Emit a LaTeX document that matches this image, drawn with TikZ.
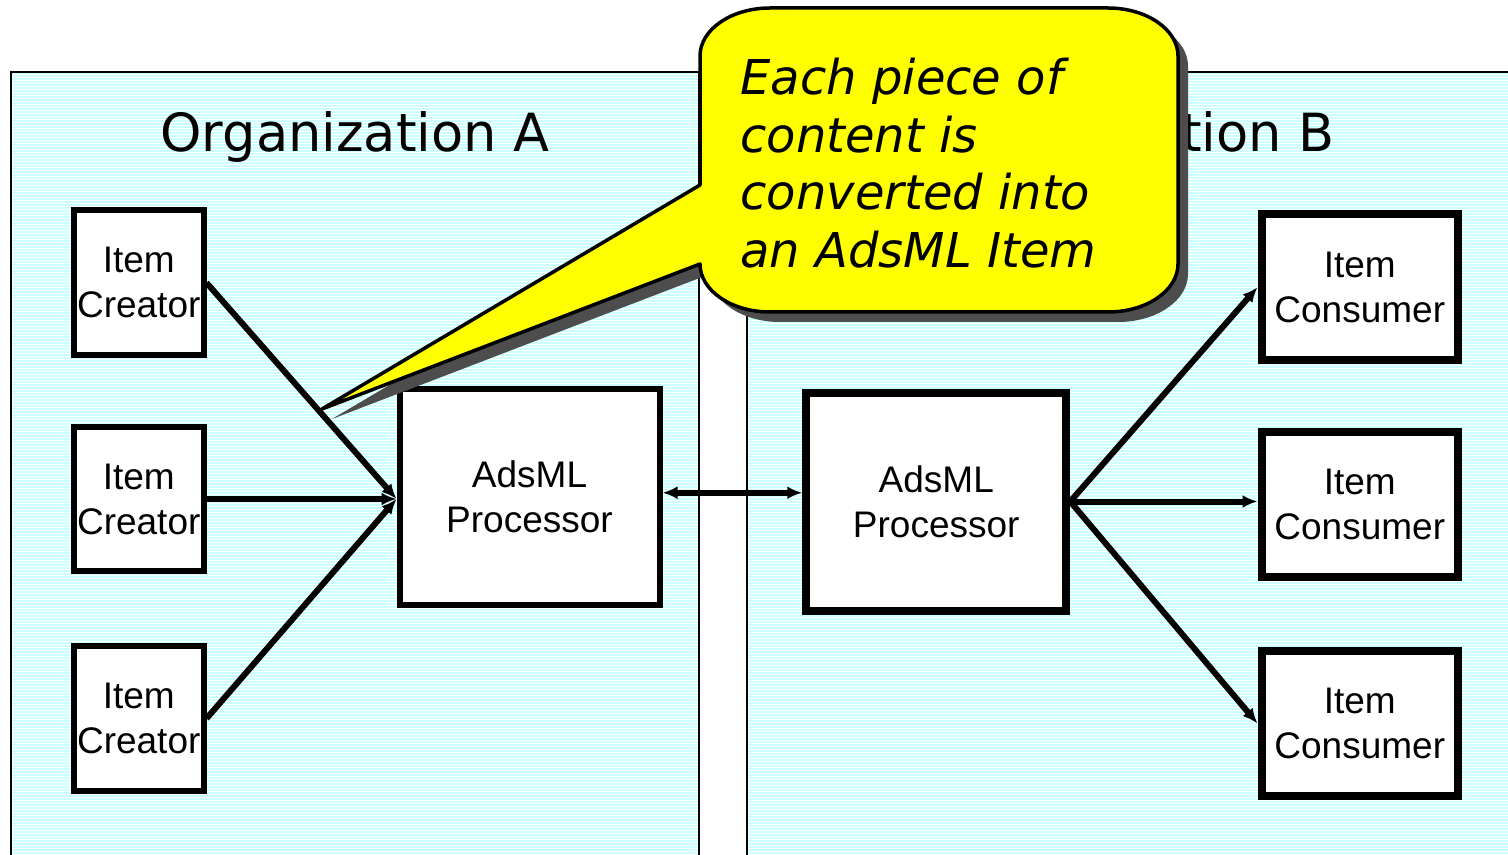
\documentclass[tikz,border=0pt]{standalone}
\usepackage{fontspec}
\setmainfont{Liberation Sans}
\newfontfamily\orgfont{DejaVu Sans}
\usetikzlibrary{arrows.meta}

\definecolor{panelcyan}{RGB}{204,255,255}
\definecolor{noteyellow}{RGB}{255,255,0}
\definecolor{shadowgray}{RGB}{77,77,77}

% outline of the speech bubble (box with pointer), in pixel units
\newcommand{\notepath}{(700,185) -- (322,409) -- (700,264)
  .. controls (700,290.5) and (731.4,312) .. (770,312) -- (1108,312)
  .. controls (1146.6,312) and (1178,290.5) .. (1178,264) -- (1178,56)
  .. controls (1178,29.5) and (1146.6,8) .. (1108,8) -- (770,8)
  .. controls (731.4,8) and (700,29.5) .. (700,56) -- cycle}

\begin{document}
\begin{tikzpicture}[x=0.5pt,y=-0.5pt,
  box/.style={draw,fill=white,line width=3pt,align=center,inner sep=0pt,
    font=\fontsize{18.5}{22.5}\selectfont},
  conn/.style={line width=3pt,-{Latex[length=7.5pt,width=6.5pt]}},
  link/.style={line width=3pt,{Latex[length=7.5pt,width=6.5pt]}-{Latex[length=7.5pt,width=6.5pt]}},
  title/.style={anchor=base,inner sep=0pt,font=\orgfont\fontsize{26.3}{30}\selectfont}]

\useasboundingbox (0,0) rectangle (1508,855);
\clip (0,0) rectangle (1508,855);

% the two organisations
\fill[panelcyan] (11,72) rectangle (699,860);
\fill[panelcyan] (747,72) rectangle (1515,860);
\foreach \y in {74.5,77.5,...,855}
  \draw[white,line width=0.5pt] (11,\y) -- (1508,\y);
\draw[line width=1pt] (11,860) -- (11,72) -- (699,72) -- (699,860);
\draw[line width=1pt] (747,860) -- (747,72) -- (1515,72);

\node[title] (orgA) at (355,152) {Organization A};
\node[title] (orgB) at (1140,152) {Organization B};

% sending side
\node[box,minimum width=64.75pt,minimum height=72.25pt] (cre1) at (138.75,282.75) {Item\\Creator};
\node[box,minimum width=64.75pt,minimum height=72.25pt] (cre2) at (138.75,499) {Item\\Creator};
\node[box,minimum width=64.75pt,minimum height=72.25pt] (cre3) at (138.75,718.5) {Item\\Creator};
\node[box,minimum width=130pt,minimum height=108.25pt] (procA) at (529.5,496.75) {AdsML\\Processor};

% receiving side
\node[box,line width=4pt,minimum width=130pt,minimum height=109pt] (procB) at (936.25,501.5) {AdsML\\Processor};
\node[box,line width=4pt,minimum width=98.25pt,minimum height=72.75pt] (con1) at (1359.75,287.25) {Item\\Consumer};
\node[box,line width=4pt,minimum width=98.25pt,minimum height=72.75pt] (con2) at (1359.75,504.5) {Item\\Consumer};
\node[box,line width=4pt,minimum width=98.25pt,minimum height=72.75pt] (con3) at (1359.75,723.5) {Item\\Consumer};

\draw[conn] (cre1.east) -- (cre2.east -| procA.west);
\draw[conn] (cre2.east) -- (cre2.east -| procA.west);
\draw[conn] (cre3.east) -- (cre2.east -| procA.west);
\draw[link] (procA.east) ++(0,-4) coordinate (ab) -- (ab -| procB.west);
\draw[conn] (procB.east) -- (con1.west);
\draw[conn] (procB.east) -- (procB.east -| con2.west);
\draw[conn] (procB.east) -- (con3.west);

% speech bubble with its drop shadow
\begin{scope}[shift={(10,10)}]
  \fill[shadowgray] \notepath;
\end{scope}
\draw[fill=noteyellow,line width=1.75pt,line join=round] \notepath;
\node[anchor=north west,inner sep=0pt,align=left,
  font=\orgfont\itshape\fontsize{24}{28.7}\selectfont] (note) at (740,58)
  {Each piece of\\content is\\converted into\\an AdsML Item};

\end{tikzpicture}
\end{document}
